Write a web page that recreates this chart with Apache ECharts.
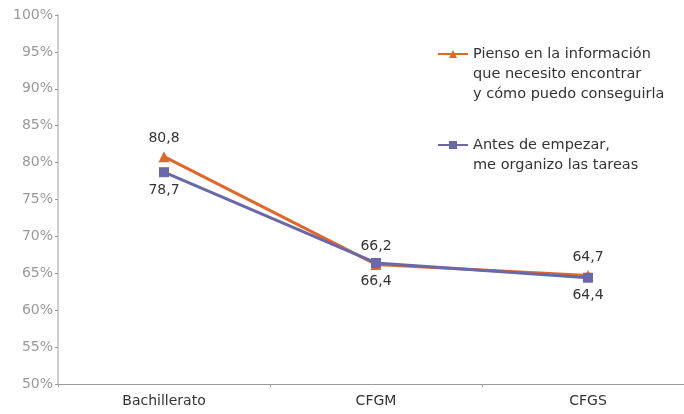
<!DOCTYPE html>
<html><head><meta charset="utf-8">
<script src="https://cdn.jsdelivr.net/npm/echarts@6/dist/echarts.min.js"></script>
<style>html,body{margin:0;padding:0;background:#fff}#c{width:684px;height:414px}</style>
</head><body><div id="c"></div>
<script>
const categories = ['Bachillerato', 'CFGM', 'CFGS'];
const seriesNames = ['Pienso en la información\nque necesito encontrar\ny cómo puedo conseguirla', 'Antes de empezar,\nme organizo las tareas'];
const valuesPienso = [80.8, 66.2, 64.7];
const valuesAntes = [78.7, 66.4, 64.4];
const yMin = 50, yMax = 100, yStep = 5;

const font = "'DejaVu Sans', Verdana, sans-serif";
const fmt = p => String(p.value).replace('.', ',');
const legendBase = {
  left: 432, orient: 'vertical', itemWidth: 30, itemHeight: 10, itemGap: 0,
  textStyle: { color: '#333', fontFamily: font, fontSize: 14.5, lineHeight: 20 }
};
const chart = echarts.init(document.getElementById('c'));
chart.setOption({
  animation: false,
  backgroundColor: '#fff',
  grid: { left: 58, width: 636, top: 15, bottom: 30, outerBoundsMode: 'none', containLabel: false },
  xAxis: {
    type: 'category', data: categories, boundaryGap: true,
    axisLine: { lineStyle: { color: '#9a9a9a', width: 1 } },
    axisTick: { show: true, length: 3, lineStyle: { color: '#9aa0c0' } },
    axisLabel: { color: '#333', fontFamily: font, fontSize: 14, margin: 10 }
  },
  yAxis: {
    type: 'value', min: yMin, max: yMax, interval: yStep,
    axisLine: { show: true, lineStyle: { color: '#cfcfcf', width: 2 } },
    axisTick: { show: true, length: 3, lineStyle: { color: '#999' } },
    splitLine: { show: false },
    axisLabel: { color: '#999', fontFamily: font, fontSize: 14, margin: 5, formatter: v => v + '%' }
  },
  legend: [
    Object.assign({}, legendBase, { data: [seriesNames[0]], top: -1, formatter: n => '\n\n' + n }),
    Object.assign({}, legendBase, { data: [seriesNames[1]], top: 110, formatter: n => '\n' + n })
  ],
  series: [
    { name: seriesNames[0], type: 'line', data: valuesPienso, color: '#e0672c',
      symbol: 'triangle', symbolSize: 11, lineStyle: { width: 3 },
      label: { show: true, position: 'top', distance: 6, color: '#333', fontFamily: font, fontSize: 14, formatter: fmt } },
    { name: seriesNames[1], type: 'line', data: valuesAntes, color: '#6a68a8',
      symbol: 'rect', symbolSize: 10, lineStyle: { width: 3 },
      label: { show: true, position: 'bottom', distance: 6, color: '#333', fontFamily: font, fontSize: 14, formatter: fmt } }
  ]
});
</script></body></html>
